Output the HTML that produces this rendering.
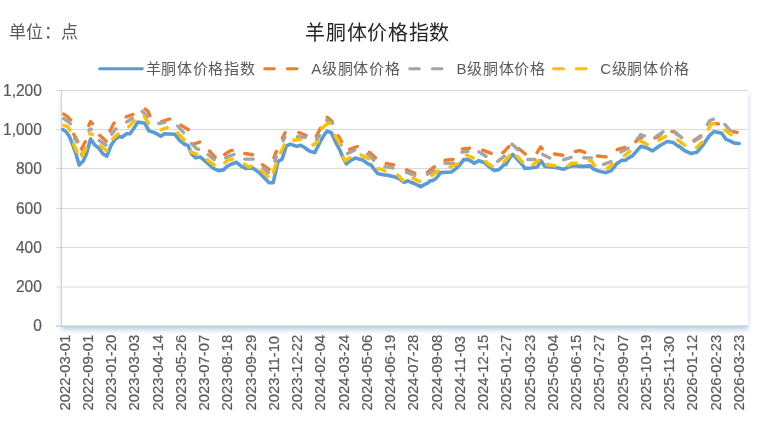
<!DOCTYPE html>
<html lang="zh-CN"><head><meta charset="utf-8">
<style>
html,body{margin:0;padding:0;background:#fff;}
body{width:766px;height:430px;overflow:hidden;position:relative;font-family:"Liberation Sans",sans-serif;}
svg{position:absolute;left:0;top:0;filter:blur(0.35px);}
</style></head><body>
<svg width="766" height="430" viewBox="0 0 766 430">
<defs>
<filter id="sh" x="-5%" y="-10%" width="110%" height="125%">
<feGaussianBlur in="SourceAlpha" stdDeviation="2.5"/>
<feOffset dx="0" dy="4" result="b"/>
<feFlood flood-color="#9cc2e8" flood-opacity="0.72"/>
<feComposite in2="b" operator="in"/>
<feMerge><feMergeNode/><feMergeNode in="SourceGraphic"/></feMerge>
</filter>
</defs>
<rect x="62" y="90.5" width="686" height="235.5" fill="#fff" filter="url(#sh)"/>
<g stroke="#d9d9d9" stroke-width="1">
<line x1="56" y1="287.00" x2="748" y2="287.00"/><line x1="56" y1="247.50" x2="748" y2="247.50"/><line x1="56" y1="208.50" x2="748" y2="208.50"/><line x1="56" y1="168.50" x2="748" y2="168.50"/><line x1="56" y1="129.50" x2="748" y2="129.50"/><line x1="56" y1="90.50" x2="748" y2="90.50"/>
</g>
<line x1="56" y1="326.2" x2="748" y2="326.2" stroke="#c8c6c3" stroke-width="1.2"/>
<line x1="61.5" y1="90" x2="61.5" y2="326" stroke="#cdd3da" stroke-width="1.1"/>
<g font-family="Liberation Sans, sans-serif" font-size="15.5" fill="#595959" stroke="#595959" stroke-width="0.2">
<text transform="translate(41.8,331.00) scale(1,1.03)" text-anchor="end">0</text><text transform="translate(41.8,292.00) scale(1,1.03)" text-anchor="end">200</text><text transform="translate(41.8,252.50) scale(1,1.03)" text-anchor="end">400</text><text transform="translate(41.8,213.50) scale(1,1.03)" text-anchor="end">600</text><text transform="translate(41.8,173.50) scale(1,1.03)" text-anchor="end">800</text><text transform="translate(41.8,134.50) scale(1,1.03)" text-anchor="end">1,000</text><text transform="translate(41.8,95.50) scale(1,1.03)" text-anchor="end">1,200</text>
</g>
<g font-family="Liberation Sans, sans-serif" font-size="14.6" fill="#595959" stroke="#595959" stroke-width="0.2">
<text transform="translate(69.70,410.50) rotate(-90) scale(1.015,1)">2022-03-01</text><text transform="translate(92.95,410.50) rotate(-90) scale(1.015,1)">2022-09-01</text><text transform="translate(116.20,410.50) rotate(-90) scale(1.015,1)">2023-01-20</text><text transform="translate(139.45,410.50) rotate(-90) scale(1.015,1)">2023-03-03</text><text transform="translate(162.70,410.50) rotate(-90) scale(1.015,1)">2023-04-14</text><text transform="translate(185.95,410.50) rotate(-90) scale(1.015,1)">2023-05-26</text><text transform="translate(209.20,410.50) rotate(-90) scale(1.015,1)">2023-07-07</text><text transform="translate(232.45,410.50) rotate(-90) scale(1.015,1)">2023-08-18</text><text transform="translate(255.70,410.50) rotate(-90) scale(1.015,1)">2023-09-29</text><text transform="translate(278.95,410.50) rotate(-90) scale(1.015,1)">2023-11-10</text><text transform="translate(302.20,410.50) rotate(-90) scale(1.015,1)">2023-12-22</text><text transform="translate(325.45,410.50) rotate(-90) scale(1.015,1)">2024-02-04</text><text transform="translate(348.70,410.50) rotate(-90) scale(1.015,1)">2024-03-24</text><text transform="translate(371.95,410.50) rotate(-90) scale(1.015,1)">2024-05-06</text><text transform="translate(395.20,410.50) rotate(-90) scale(1.015,1)">2024-06-19</text><text transform="translate(418.45,410.50) rotate(-90) scale(1.015,1)">2024-07-28</text><text transform="translate(441.70,410.50) rotate(-90) scale(1.015,1)">2024-09-08</text><text transform="translate(464.95,410.50) rotate(-90) scale(1.015,1)">2024-11-03</text><text transform="translate(488.20,410.50) rotate(-90) scale(1.015,1)">2024-12-15</text><text transform="translate(511.45,410.50) rotate(-90) scale(1.015,1)">2025-01-27</text><text transform="translate(534.70,410.50) rotate(-90) scale(1.015,1)">2025-03-23</text><text transform="translate(557.95,410.50) rotate(-90) scale(1.015,1)">2025-05-04</text><text transform="translate(581.20,410.50) rotate(-90) scale(1.015,1)">2025-06-15</text><text transform="translate(604.45,410.50) rotate(-90) scale(1.015,1)">2025-07-27</text><text transform="translate(627.70,410.50) rotate(-90) scale(1.015,1)">2025-09-07</text><text transform="translate(650.95,410.50) rotate(-90) scale(1.015,1)">2025-10-19</text><text transform="translate(674.20,410.50) rotate(-90) scale(1.015,1)">2025-11-30</text><text transform="translate(697.45,410.50) rotate(-90) scale(1.015,1)">2026-01-12</text><text transform="translate(720.70,410.50) rotate(-90) scale(1.015,1)">2026-02-23</text><text transform="translate(743.95,410.50) rotate(-90) scale(1.015,1)">2026-03-23</text>
</g>
<g fill="none" stroke-width="3.4" stroke-linejoin="round" stroke-linecap="round">
<path d="M62.9,129.3 L66.1,131.8 L69.4,136.6 L72.7,144.8 L75.9,153.7 L79.2,165.1 L83.2,161.1 L86.5,153.7 L90.6,139.1 L94.6,144.8 L98.7,148.0 L102.8,153.7 L106.9,156.2 L110.9,145.6 L115.0,139.5 L119.1,136.6 L122.0,137.2 L126.6,133.7 L130.1,133.7 L133.7,128.5 L137.7,122.1 L142.7,122.8 L144.7,123.3 L146.8,126.9 L148.7,130.8 L154.5,132.6 L160.9,136.3 L164.4,133.7 L175.0,134.3 L179.2,139.9 L184.1,144.0 L188.2,145.6 L191.4,153.7 L195.5,157.8 L200.4,157.0 L206.9,162.7 L213.4,168.4 L218.5,170.6 L223.5,169.9 L227.7,165.9 L230.0,164.8 L236.5,162.3 L241.4,166.4 L246.3,168.5 L252.8,168.0 L258.5,172.1 L264.2,177.8 L269.1,182.7 L273.2,182.7 L275.6,172.1 L278.0,161.5 L282.1,159.1 L286.2,146.1 L290.3,144.1 L296.8,146.4 L300.8,145.2 L304.9,147.7 L309.8,151.3 L314.7,152.6 L319.9,142.5 L324.0,135.1 L327.2,131.1 L331.3,132.7 L335.4,141.6 L340.0,150.5 L343.5,158.7 L346.4,163.9 L350.8,160.4 L355.3,158.1 L360.5,159.4 L362.2,159.6 L368.7,164.4 L370.7,164.5 L373.7,168.6 L377.7,173.5 L383.0,174.7 L388.6,175.4 L395.0,177.1 L400.0,179.2 L404.0,182.2 L407.8,180.9 L414.2,183.5 L420.6,186.7 L424.9,184.4 L428.2,182.8 L430.0,180.7 L432.6,180.6 L435.9,178.4 L438.3,175.7 L440.4,172.6 L451.3,172.0 L455.0,169.4 L459.4,165.4 L463.6,159.6 L467.8,159.6 L470.8,161.1 L474.1,163.3 L478.8,160.7 L484.6,162.7 L487.1,165.1 L489.9,167.3 L492.9,169.6 L494.8,170.6 L499.2,169.6 L505.5,163.3 L506.0,164.3 L510.0,157.5 L512.8,154.4 L517.5,159.6 L522.5,164.9 L524.8,168.5 L526.5,168.2 L531.1,168.0 L537.4,166.9 L541.1,160.7 L544.7,166.4 L551.0,166.9 L558.4,168.0 L562.0,169.0 L564.6,169.0 L567.2,167.5 L569.7,166.5 L572.5,165.9 L574.9,165.9 L582.9,166.4 L590.3,165.9 L593.4,169.0 L598.6,171.1 L606.0,172.7 L611.2,170.6 L614.8,166.4 L616.5,163.8 L618.0,162.9 L622.0,160.1 L623.7,160.4 L625.3,160.3 L627.8,158.3 L632.7,155.6 L636.8,150.9 L641.0,146.2 L646.3,147.7 L652.6,150.9 L658.8,146.2 L667.2,141.5 L673.5,142.5 L674.0,143.1 L678.0,146.2 L678.7,146.0 L684.5,150.7 L691.4,153.6 L697.3,151.9 L703.1,144.9 L708.9,136.2 L714.1,131.5 L721.7,133.3 L725.7,139.1 L729.8,140.8 L734.5,143.1 L739.1,143.5" stroke="#5B9BD5" stroke-width="3.6"/>
<path d="M63.7,114.1 L67.0,116.3 L70.6,119.9 M73.8,134.2 L77.7,141.6 M81.4,149.1 L85.3,141.7 M88.8,125.6 L90.5,121.6 L92.5,123.6 M99.8,135.4 L106.1,141.1 M110.0,130.9 L114.0,122.9 M126.2,116.9 L132.9,114.5 M145.1,109.0 L148.0,111.4 L149.9,115.6 M161.6,121.7 L169.5,119.0 M181.0,125.1 L188.4,129.7 M193.3,144.0 L193.9,144.0 L199.7,142.1 M209.4,151.0 L215.2,157.3 M224.7,154.5 L230.0,150.8 L232.3,150.4 M244.8,153.5 L252.6,154.8 M262.4,164.7 L269.2,169.6 M274.0,157.7 L276.3,151.4 M282.3,138.2 L285.1,132.7 M298.9,132.7 L306.1,135.5 M316.3,136.2 L320.4,128.2 M327.3,117.2 L332.1,121.5 M338.3,135.7 L341.5,141.6 M349.6,149.3 L357.2,146.5 M369.3,152.4 L370.0,152.8 L375.4,157.8 M386.2,163.5 L393.6,164.9 M406.5,169.9 L414.8,173.4 M427.4,172.3 L434.2,166.8 L434.6,167.0 M445.0,160.3 L453.1,159.4 M462.4,149.0 L469.5,148.2 M482.7,150.2 L490.0,152.9 L491.1,153.3 M502.8,152.8 L506.0,149.7 L508.8,146.6 M518.6,148.5 L525.3,154.0 M537.1,152.6 L540.6,147.0 L542.2,148.7 M554.5,154.0 L562.7,155.2 M575.4,151.5 L579.8,150.7 L584.8,152.4 M597.4,156.0 L606.1,156.9 M617.2,149.7 L622.0,148.1 L625.0,147.5 M635.8,141.6 L638.9,138.8 L641.7,137.6 M654.9,137.9 L658.3,136.8 L661.0,134.0 M671.9,131.6 L674.5,131.9 L677.1,134.7 M693.8,140.6 L700.7,135.8 M713.8,123.5 L718.5,123.9 M733.5,131.8 L737.1,132.4" stroke="#ED7D31"/>
<path d="M63.7,118.6 L68.6,122.0 L70.5,123.7 M74.7,138.6 L76.8,141.7 M81.2,154.2 L82.4,153.7 L84.7,147.8 M89.0,130.3 L89.8,129.3 L91.3,129.2 M99.2,140.5 L105.9,145.0 M111.8,134.1 L116.0,128.8 M126.7,121.9 L132.4,118.2 M142.2,111.4 L147.7,116.5 M158.8,123.5 L164.8,122.4 M177.7,126.1 L183.5,132.4 M191.4,143.5 L197.1,148.9 L198.7,149.3 M208.1,154.7 L214.2,159.7 M225.7,157.7 L230.0,155.8 L234.0,154.5 M244.8,159.1 L253.4,159.1 M263.2,168.1 L268.4,172.8 M274.8,161.0 L276.3,157.1 M283.2,140.8 L285.0,137.5 M297.5,136.8 L305.3,137.4 M316.6,139.4 L319.4,135.6 M326.7,120.2 L327.2,120.5 L332.6,123.3 M336.1,137.2 L340.6,144.3 L341.0,144.9 M347.6,153.6 L354.8,149.9 M367.5,154.3 L370.0,155.6 L373.6,160.2 M384.9,166.7 L392.9,168.1 M406.5,172.5 L414.8,175.5 M427.5,174.3 L434.1,170.7 M445.0,163.4 L453.6,163.1 M461.9,152.1 L468.0,151.4 M478.9,151.9 L486.0,156.3 M497.7,161.4 L504.4,156.2 M512.0,144.3 L512.7,144.5 L517.6,149.7 M527.8,159.5 L535.0,159.5 M542.8,154.4 L549.8,158.0 M563.8,159.7 L571.2,157.4 M583.8,157.7 L584.7,157.8 L591.5,158.0 M603.6,164.3 L611.0,161.7 M620.9,151.9 L628.2,148.3 M637.4,138.6 L638.4,137.9 L640.5,134.7 L644.4,135.8 M656.4,136.5 L657.9,135.5 L663.0,131.8 M675.1,132.1 L681.6,137.6 M694.4,141.2 L700.7,137.0 M707.4,124.5 L710.0,120.5 L713.4,119.2 M724.9,124.5 L729.9,130.2 L730.8,130.5" stroke="#A5A5A5"/>
<path d="M63.8,125.2 L67.8,126.9 L70.0,130.2 M73.7,144.1 L77.0,152.0 M82.1,155.9 L86.0,148.5 M89.5,133.9 L90.6,133.4 L92.3,134.5 M100.6,145.9 L106.8,150.9 M112.7,138.8 L118.0,134.0 M128.7,126.8 L132.9,122.0 L134.3,120.7 M144.2,116.3 L148.6,123.2 M161.1,129.8 L167.2,127.7 M177.7,132.9 L184.2,140.0 M190.5,151.1 L191.4,152.1 L196.6,154.1 M207.4,159.9 L214.2,165.1 M224.7,162.7 L228.0,159.8 L232.3,159.2 M244.5,164.0 L248.7,167.2 L251.1,166.1 M261.5,170.6 L267.7,176.7 M273.2,172.4 L276.3,163.6 M280.6,152.8 L284.3,144.9 M293.7,140.3 L300.7,139.2 M313.0,145.0 L318.4,141.3 M322.0,128.3 L327.2,123.7 L329.4,123.3 M334.9,135.4 L335.4,135.9 L339.9,143.8 M343.2,156.9 L345.1,160.7 L348.4,158.7 L349.8,157.7 M361.1,154.9 L368.7,158.8 M377.8,168.6 L381.2,169.1 L384.8,171.0 M397.9,175.1 L403.0,180.6 M412.9,178.3 L419.9,181.6 M431.9,175.5 L438.0,170.9 M450.0,167.0 L457.6,163.8 M466.5,155.0 L473.3,158.0 M485.7,161.6 L490.0,165.1 L492.3,166.3 M503.9,161.7 L506.0,159.6 L509.3,155.9 M516.8,156.0 L522.4,162.2 M532.8,164.6 L538.9,160.4 M546.7,164.5 L554.9,165.7 M568.3,165.6 L571.4,163.3 L575.0,163.3 L576.3,163.3 M589.5,160.7 L590.8,160.1 L594.7,165.7 M607.1,168.7 L612.7,164.2 M624.3,155.7 L630.0,151.3 M640.7,141.1 L647.2,144.4 M658.8,140.6 L660.0,139.5 L665.5,136.4 M677.7,140.0 L684.5,145.2 M696.5,147.5 L702.1,142.3 M708.4,129.1 L711.2,124.0 L713.6,123.7 L714.5,123.6 M725.1,130.1 L731.0,134.7" stroke="#FFC000"/>
</g>
<g font-family="Liberation Sans, sans-serif" fill="#595959" font-size="15" letter-spacing="0.67">
<line x1="99.6" y1="68.8" x2="142.3" y2="68.8" stroke="#5B9BD5" stroke-width="3" stroke-linecap="round"/>
<text x="145.6" y="73.8">羊胴体价格指数</text>
<line x1="264.7" y1="68.8" x2="297" y2="68.8" stroke="#ED7D31" stroke-width="3" stroke-linecap="round" stroke-dasharray="9.6 13.1"/>
<text x="311.3" y="73.8">A级胴体价格</text>
<line x1="409.7" y1="68.8" x2="442" y2="68.8" stroke="#A5A5A5" stroke-width="3" stroke-linecap="round" stroke-dasharray="9.6 13.1"/>
<text x="456.6" y="73.8">B级胴体价格</text>
<line x1="553.5" y1="68.8" x2="586.2" y2="68.8" stroke="#FFC000" stroke-width="3" stroke-linecap="round" stroke-dasharray="10 12.7"/>
<text x="600.2" y="73.8">C级胴体价格</text>
</g>
<text x="8.6" y="38.2" font-family="Liberation Sans, sans-serif" font-size="17" letter-spacing="0.6" fill="#595959">单位：点</text>
<text x="305.4" y="39.6" font-family="Liberation Sans, sans-serif" font-size="20" letter-spacing="0.65" fill="#262626">羊胴体价格指数</text>
</svg>
</body></html>
